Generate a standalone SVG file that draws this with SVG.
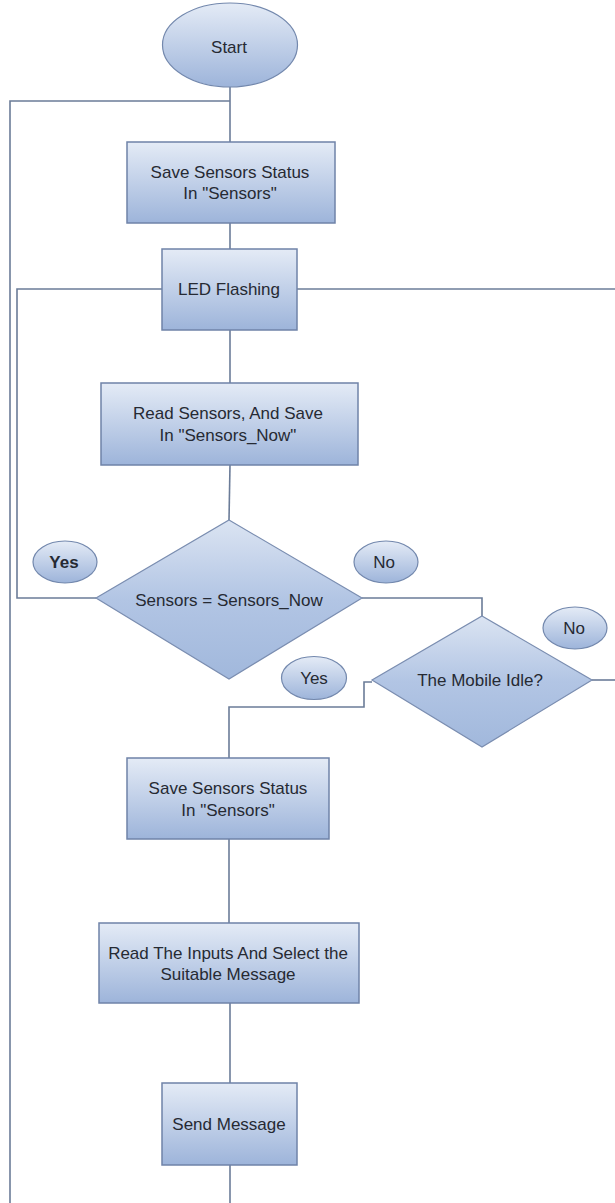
<svg xmlns="http://www.w3.org/2000/svg" width="615" height="1203" viewBox="0 0 615 1203">
  <defs>
    <linearGradient id="fillBlue" x1="0" y1="0" x2="0" y2="1">
      <stop offset="0" stop-color="#e4ebf6"/>
      <stop offset="1" stop-color="#9db4da"/>
    </linearGradient>
    <linearGradient id="fillDiamond" x1="0" y1="0" x2="0" y2="1">
      <stop offset="0" stop-color="#dbe4f2"/>
      <stop offset="0.5" stop-color="#b2c5e4"/>
      <stop offset="1" stop-color="#a1b8dc"/>
    </linearGradient>
    <style>
      .box { fill: url(#fillBlue); stroke: #6f83a8; stroke-width: 1.5; }
      .dia { fill: url(#fillDiamond); stroke: #7a8db0; stroke-width: 1.2; }
      .oval { fill: url(#fillBlue); stroke: #7388ad; stroke-width: 1.2; }
      .wire { fill: none; stroke: #6b7c98; stroke-width: 1.6; }
      text { font-family: "Liberation Sans", Arial, sans-serif; font-size: 17px; fill: #262a33; text-anchor: middle; }
      .bold { font-weight: bold; }
    </style>
  </defs>
  <rect width="615" height="1203" fill="#ffffff"/>

  <!-- connectors -->
  <g id="connectors">
    <!-- start to first box, with loop-back rail on the far left -->
    <path class="wire" d="M230 87 V142"/>
    <path class="wire" d="M230 101 H10 V1203"/>
    <path class="wire" d="M230 223 V249"/>
    <!-- LED flashing outputs -->
    <path class="wire" d="M162 289 H17 V598 H96"/>
    <path class="wire" d="M297 289 H615"/>
    <path class="wire" d="M230 330 V383"/>
    <path class="wire" d="M230 465 L229 520"/>
    <!-- comparison "No" branch to mobile-idle check -->
    <path class="wire" d="M362 598 H482 V616"/>
    <path class="wire" d="M592 680 H615"/>
    <!-- mobile idle "Yes" branch -->
    <path class="wire" d="M372 682 H364 V707 H229 V758"/>
    <path class="wire" d="M229 839 V923"/>
    <path class="wire" d="M230 1003 V1083"/>
    <path class="wire" d="M230 1165 V1203"/>
  </g>

  <g id="start">
    <ellipse class="oval" cx="230" cy="45" rx="67.5" ry="42"/>
    <text x="229" y="53">Start</text>
  </g>

  <g id="save-status-1">
    <rect class="box" x="127" y="142" width="208" height="81"/>
    <text x="230" y="178">Save Sensors Status</text>
    <text x="230" y="199">In "Sensors"</text>
  </g>

  <g id="led-flashing">
    <rect class="box" x="162" y="249" width="135" height="81"/>
    <text x="229" y="295">LED Flashing</text>
  </g>

  <g id="read-sensors">
    <rect class="box" x="101" y="383" width="257" height="82"/>
    <text x="228" y="419">Read Sensors, And Save</text>
    <text x="228" y="441">In "Sensors_Now"</text>
  </g>

  <g id="compare">
    <polygon class="dia" points="229,520 362,598 229,679 96,598"/>
    <text x="229" y="606">Sensors = Sensors_Now</text>
  </g>

  <g id="label-yes-1">
    <ellipse class="oval" cx="65" cy="562" rx="32" ry="21"/>
    <text class="bold" x="64" y="568">Yes</text>
  </g>

  <g id="label-no-1">
    <ellipse class="oval" cx="386" cy="562" rx="32" ry="21"/>
    <text x="384" y="568">No</text>
  </g>

  <g id="mobile-idle">
    <polygon class="dia" points="482,616 592,680 482,747 372,680"/>
    <text x="480" y="686">The Mobile Idle?</text>
  </g>

  <g id="label-no-2">
    <ellipse class="oval" cx="575" cy="628" rx="32" ry="21"/>
    <text x="574" y="634">No</text>
  </g>

  <g id="label-yes-2">
    <ellipse class="oval" cx="314" cy="678" rx="32.5" ry="21.5"/>
    <text x="314" y="684">Yes</text>
  </g>

  <g id="save-status-2">
    <rect class="box" x="127" y="758" width="202" height="81"/>
    <text x="228" y="794">Save Sensors Status</text>
    <text x="228" y="816">In "Sensors"</text>
  </g>

  <g id="select-message">
    <rect class="box" x="99" y="923" width="260" height="80"/>
    <text x="228" y="959">Read The Inputs And Select the</text>
    <text x="228" y="980">Suitable Message</text>
  </g>

  <g id="send-message">
    <rect class="box" x="162" y="1083" width="135" height="82"/>
    <text x="229" y="1130">Send Message</text>
  </g>
</svg>
